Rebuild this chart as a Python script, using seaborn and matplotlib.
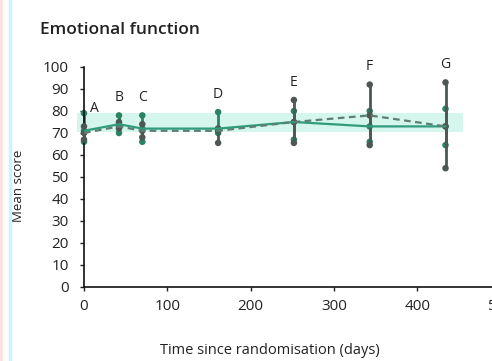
import matplotlib
matplotlib.use("Agg")
import matplotlib.pyplot as plt
from matplotlib.lines import Line2D
import seaborn as sns
import pandas as pd

# Visit days and labels
days = [0, 42, 70, 161, 252, 343, 434]
visits = ["A", "B", "C", "D", "E", "F", "G"]

# Arm 1 (solid line)
solid_mean = [71, 74, 72, 72, 75, 73, 73]
solid_lo = [66, 70, 66, 70, 67, 66, 64.5]
solid_hi = [79, 78, 78, 79.5, 80, 80, 81]

# Arm 2 (dashed line)
dashed_mean = [70, 73, 71, 71, 75, 78, 73]
dashed_lo = [67, 72, 68, 65.5, 65.5, 64.5, 54]
dashed_hi = [73, 75, 74, 72, 85, 92, 93]

sns.set_theme(style="white")
plt.rcParams["font.family"] = ["Open Sans", "DejaVu Sans"]

fig = plt.figure(figsize=(4.92, 3.61), dpi=100)
ax = fig.add_axes([84 / 492, 74 / 361, 416.5 / 492, 220 / 361])

teal = "#2f9c7c"
bar_green = "#2b8363"
dark = "#4f5753"

df = pd.DataFrame({
    "day": days * 2,
    "score": solid_mean + dashed_mean,
    "lo": solid_lo + dashed_lo,
    "hi": solid_hi + dashed_hi,
    "arm": ["solid"] * len(days) + ["dashed"] * len(days),
})

# pale reference band
ax.fill_between([-8, 455], [70.5, 70.5], [79, 79], color="#d4f6ec", lw=0,
                zorder=0, clip_on=False)

# error bars with dotted ends
for k, (arm, col) in enumerate([("solid", bar_green), ("dashed", dark)]):
    sub = df[df["arm"] == arm]
    ax.vlines(sub["day"], sub["lo"], sub["hi"], color=col, lw=2.0, zorder=2 + k,
              clip_on=False)
    pts = pd.concat([sub[["day", "lo"]].rename(columns={"lo": "v"}),
                     sub[["day", "hi"]].rename(columns={"hi": "v"}),
                     sub[["day", "score"]].rename(columns={"score": "v"})])
    sns.scatterplot(data=pts, x="day", y="v", color=col, s=22, edgecolor="none",
                    ax=ax, zorder=2.5 + k, legend=False, clip_on=False)

sns.lineplot(data=df, x="day", y="score", style="arm", hue="arm",
             palette={"solid": teal, "dashed": "#5f7d73"},
             dashes={"solid": "", "dashed": (3, 2)},
             lw=1.6, ax=ax, legend=False, zorder=5)

# visit letters above each bar
for i, (d, lab) in enumerate(zip(days, visits)):
    top = max(solid_hi[i], dashed_hi[i])
    if i == 0:
        ax.text(d + 12, top + 2, lab, ha="center", va="center", fontsize=10, color="#222")
    else:
        ax.text(d, top + 8, lab, ha="center", va="center", fontsize=10, color="#222")

ax.set_xlim(0, 500)
ax.set_ylim(0, 100)
ax.set_xticks([0, 100, 200, 300, 400, 500])
ax.set_yticks(range(0, 101, 10))
ax.tick_params(axis="both", direction="out", length=3, width=1, colors="#222",
               labelsize=11, left=True, bottom=True)
ax.tick_params(axis="y", pad=8)
ax.tick_params(axis="x", pad=6)
for s in ["top", "right"]:
    ax.spines[s].set_visible(False)
for s in ["left", "bottom"]:
    ax.spines[s].set_color("#111")
    ax.spines[s].set_linewidth(1.2)
ax.set_xlabel("Time since randomisation (days)", fontsize=10.5, color="#222")
ax.set_ylabel("Mean score", fontsize=9.5, color="#222")
ax.xaxis.set_label_coords((270 - 84) / 416.5, -0.255)
ax.yaxis.set_label_coords(-(84 - 25) / 416.5, 0.46)

fig.text(40 / 492, 1 - 30 / 361, "Emotional function", fontsize=12.5, fontweight="semibold",
         color="#222", va="center", ha="left")

# thin coloured strips along the left margin
fig.add_artist(Line2D([1 / 492, 1 / 492], [0, 1], color="#ffdede", lw=2, transform=fig.transFigure))
fig.add_artist(Line2D([10 / 492, 10 / 492], [0, 1], color="#c9f5fb", lw=2.5, transform=fig.transFigure))

fig.savefig("out.png", dpi=100)
